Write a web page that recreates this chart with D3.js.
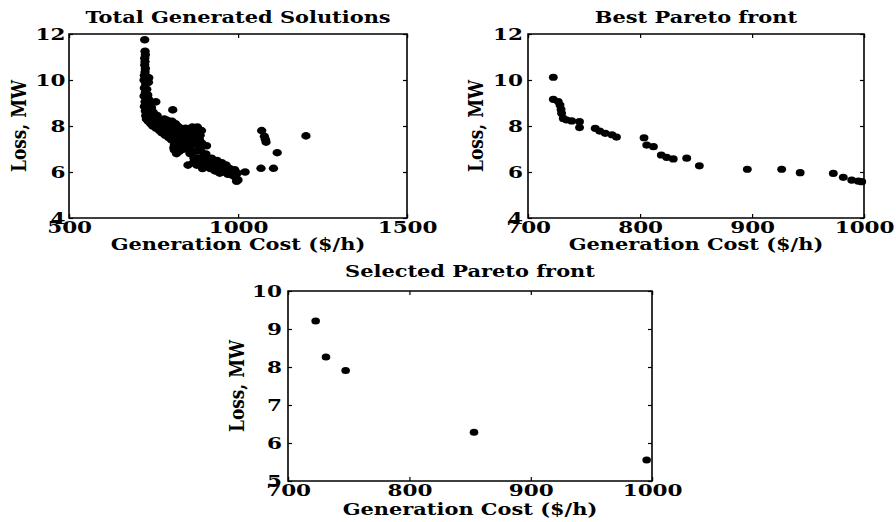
<!DOCTYPE html>
<html>
<head>
<meta charset="utf-8">
<script src="https://cdn.jsdelivr.net/npm/d3@7"></script>
<style>
  body { margin: 0; background: #fff; }
  text { font-family: "DejaVu Serif", serif; font-weight: bold; }
</style>
</head>
<body>
<div id="chart"></div>
<script>
// values: [generation cost ($/h), loss (MW)]
var totalSolutions = [
  [724,11.75],[725,11.25],[726,11.1],[724,10.95],[725,10.8],[724,10.65],[726,10.5],[725,10.35],
  [723,10.2],[729,10.15],[736,10.1],[722,10.0],[731,9.95],[735,9.9],[727,9.85],[723,9.65],
  [730,9.6],[726,9.45],[733,9.35],[722,9.3],[728,9.2],[736,9.15],[725,9.05],[732,8.95],
  [740,8.95],[723,8.85],[729,8.75],[737,8.8],[744,8.8],[726,8.65],[733,8.6],[741,8.65],
  [749,8.6],[727,8.45],[735,8.45],[743,8.5],[752,8.5],[729,8.3],[738,8.3],[746,8.35],
  [755,8.35],[761,8.45],[757,9.05],[807,8.7],
  [735,8.2],[742,8.1],[748,8.0],[752,8.2],[758,7.9],[763,8.1],[768,7.8],[770,8.2],
  [775,7.7],[778,8.0],[782,8.3],[785,7.6],[788,7.9],[792,8.1],[795,7.5],[798,7.8],
  [800,8.05],[803,7.4],[806,7.65],[810,7.9],[812,7.2],[815,7.5],[818,7.75],[820,8.0],
  [822,7.0],[825,7.3],[828,7.6],[830,7.85],[812,6.95],[818,6.8],[826,6.9],[833,7.1],
  [836,7.45],[840,7.7],[845,7.9],[848,7.3],[852,7.55],[855,7.0],[858,6.8],[862,7.2],
  [866,7.7],[870,7.85],[872,7.5],[878,7.6],[882,7.75],[886,7.4],[875,6.9],[880,6.6],
  [885,7.1],[890,6.9],[893,7.25],[852,6.3],[868,6.4],[878,6.3],[890,6.5],[895,6.15],
  [900,6.7],[905,6.35],[907,7.14],[905,6.78],[912,6.5],[918,6.15],[922,6.6],[928,6.35],
  [932,6.05],[938,6.5],[942,6.2],[946,5.95],[952,6.4],[956,6.15],[960,6.0],[965,6.3],
  [970,5.9],[975,6.15],[980,6.05],[985,5.85],[990,6.1],[994,5.75],[998,5.95],[1000,5.65],
  [996,5.6],[1021,6.0],
  [790,8.25],[800,7.6],[805,8.2],[815,8.1],[825,7.95],[835,7.8],[845,7.6],[855,7.8],
  [860,7.4],[865,7.95],[875,7.25],[880,7.95],[888,7.6],[892,7.8],[840,7.2],[830,6.95],
  [820,7.15],[810,7.05],[795,7.75],[780,7.85],[772,8.05],[765,7.95],[842,7.0],[862,6.95],
  [870,6.6],[884,6.35],[898,6.5],[915,6.35],[935,6.25],[948,6.05],[962,6.15],[972,6.0],
  [982,5.95],[992,5.9],
  [1070,7.8],[1078,7.55],[1081,7.42],[1083,7.3],[1201,7.57],[1116,6.84],[1068,6.16],[1105,6.16]
];

var bestFront = [
  [722.6,10.12],[722.6,9.16],[727,9.06],[728.6,8.91],[729.5,8.72],[730,8.55],[731.5,8.33],
  [734.5,8.26],[739,8.22],[746,8.19],[746,7.93],[760,7.9],[764,7.78],[769,7.68],[775,7.62],
  [779,7.52],[803.6,7.49],[806,7.17],[812,7.1],[819,6.74],[823.8,6.64],[829.7,6.57],
  [841.7,6.6],[853,6.27],[895.8,6.12],[926.5,6.12],[943,5.97],[972.6,5.94],[981.5,5.77],
  [989,5.65],[995,5.6],[998,5.58]
];

var selectedFront = [
  [722.8,9.21],[731.3,8.26],[747.5,7.91],[853.3,6.28],[995.6,5.55]
];

var costTicksWide = [500, 1000, 1500];
var costTicks = [700, 800, 900, 1000];
var lossTicks = [4, 6, 8, 10, 12];
var lossTicksSel = [5, 6, 7, 8, 9, 10];

var titles = ["Total Generated Solutions", "Best Pareto front", "Selected Pareto front"];
var xTitle = "Generation Cost ($/h)";
var yTitle = "Loss, MW";

// the original figure is stretched sideways, so draw in a narrower space and stretch it
var SX = 1.23;
var W = 896, H = 522;

var svg = d3.select("#chart")
  .append("svg")
  .attr("width", W)
  .attr("height", H)
  .attr("viewBox", "0 0 " + (W / SX) + " " + H)
  .attr("preserveAspectRatio", "none");

function drawPanel(p) {
  var g = svg.append("g");
  var x = d3.scaleLinear().domain(p.xDomain).range([p.left / SX, p.right / SX]);
  var y = d3.scaleLinear().domain(p.yDomain).range([p.bottom, p.top]);

  g.append("g").attr("transform", "translate(0," + p.bottom + ")")
    .call(d3.axisBottom(x).tickValues(p.xTicks).tickSize(-4).tickSizeOuter(0).tickPadding(3).tickFormat(d3.format("d")));
  g.append("g").attr("transform", "translate(0," + p.top + ")")
    .call(d3.axisTop(x).tickValues(p.xTicks).tickSize(-4).tickSizeOuter(0).tickFormat(""));
  g.append("g").attr("transform", "translate(" + (p.left / SX) + ",0)")
    .call(d3.axisLeft(y).tickValues(p.yTicks).tickSize(-4 / SX).tickSizeOuter(0).tickPadding(p.padY / SX).tickFormat(d3.format("d")));
  g.append("g").attr("transform", "translate(" + (p.right / SX) + ",0)")
    .call(d3.axisRight(y).tickValues(p.yTicks).tickSize(-4 / SX).tickSizeOuter(0).tickFormat(""));

  g.selectAll(".domain").remove();
  g.selectAll(".tick line").attr("stroke", "#000").attr("stroke-width", 1.2).attr("vector-effect", "non-scaling-stroke");
  g.selectAll(".tick text")
    .attr("fill", "#000")
    .attr("font-size", 17.5)
    .attr("font-family", '"DejaVu Serif", serif')
    .attr("font-weight", "bold");

  g.append("rect")
    .attr("x", p.left / SX).attr("y", p.top)
    .attr("width", (p.right - p.left) / SX).attr("height", p.bottom - p.top)
    .attr("fill", "none").attr("stroke", "#000").attr("stroke-width", 1.6)
    .attr("vector-effect", "non-scaling-stroke");

  g.selectAll(".dot")
    .data(p.data)
    .enter()
    .append("circle")
    .attr("class", "dot")
    .attr("cx", function (d) { return x(d[0]); })
    .attr("cy", function (d) { return y(d[1]); })
    .attr("r", p.r)
    .attr("fill", "#000");

  var cx = (p.left + p.right) / 2 / SX;
  g.append("text").attr("x", cx).attr("y", p.top - p.titleGap)
    .attr("text-anchor", "middle").attr("font-size", 17).text(p.title);
  g.append("text").attr("x", cx).attr("y", p.bottom + p.xTitleGap)
    .attr("text-anchor", "middle").attr("font-size", 17).text(xTitle);
  g.append("text")
    .attr("transform", "translate(" + ((p.left - p.yTitleGap) / SX) + "," + ((p.top + p.bottom) / 2) + ") rotate(-90)")
    .attr("text-anchor", "middle").attr("dy", "0.36em").attr("font-size", 17).text(yTitle);
}

drawPanel({ left: 69, right: 407, top: 34, bottom: 218, xDomain: [500, 1500], yDomain: [4, 12],
  xTicks: costTicksWide, yTicks: lossTicks, data: totalSolutions, r: 3.8, padY: 3.5,
  title: titles[0], titleGap: 11, xTitleGap: 32, yTitleGap: 51 });

drawPanel({ left: 528, right: 864, top: 34, bottom: 218, xDomain: [700, 1000], yDomain: [4, 12],
  xTicks: costTicks, yTicks: lossTicks, data: bestFront, r: 3.6, padY: 5,
  title: titles[1], titleGap: 11, xTitleGap: 32, yTitleGap: 53 });

drawPanel({ left: 288, right: 652, top: 291, bottom: 481, xDomain: [700, 1000], yDomain: [5, 10],
  xTicks: costTicks, yTicks: lossTicksSel, data: selectedFront, r: 3.5, padY: 6,
  title: titles[2], titleGap: 14, xTitleGap: 34, yTitleGap: 51.5 });
</script>
</body>
</html>
